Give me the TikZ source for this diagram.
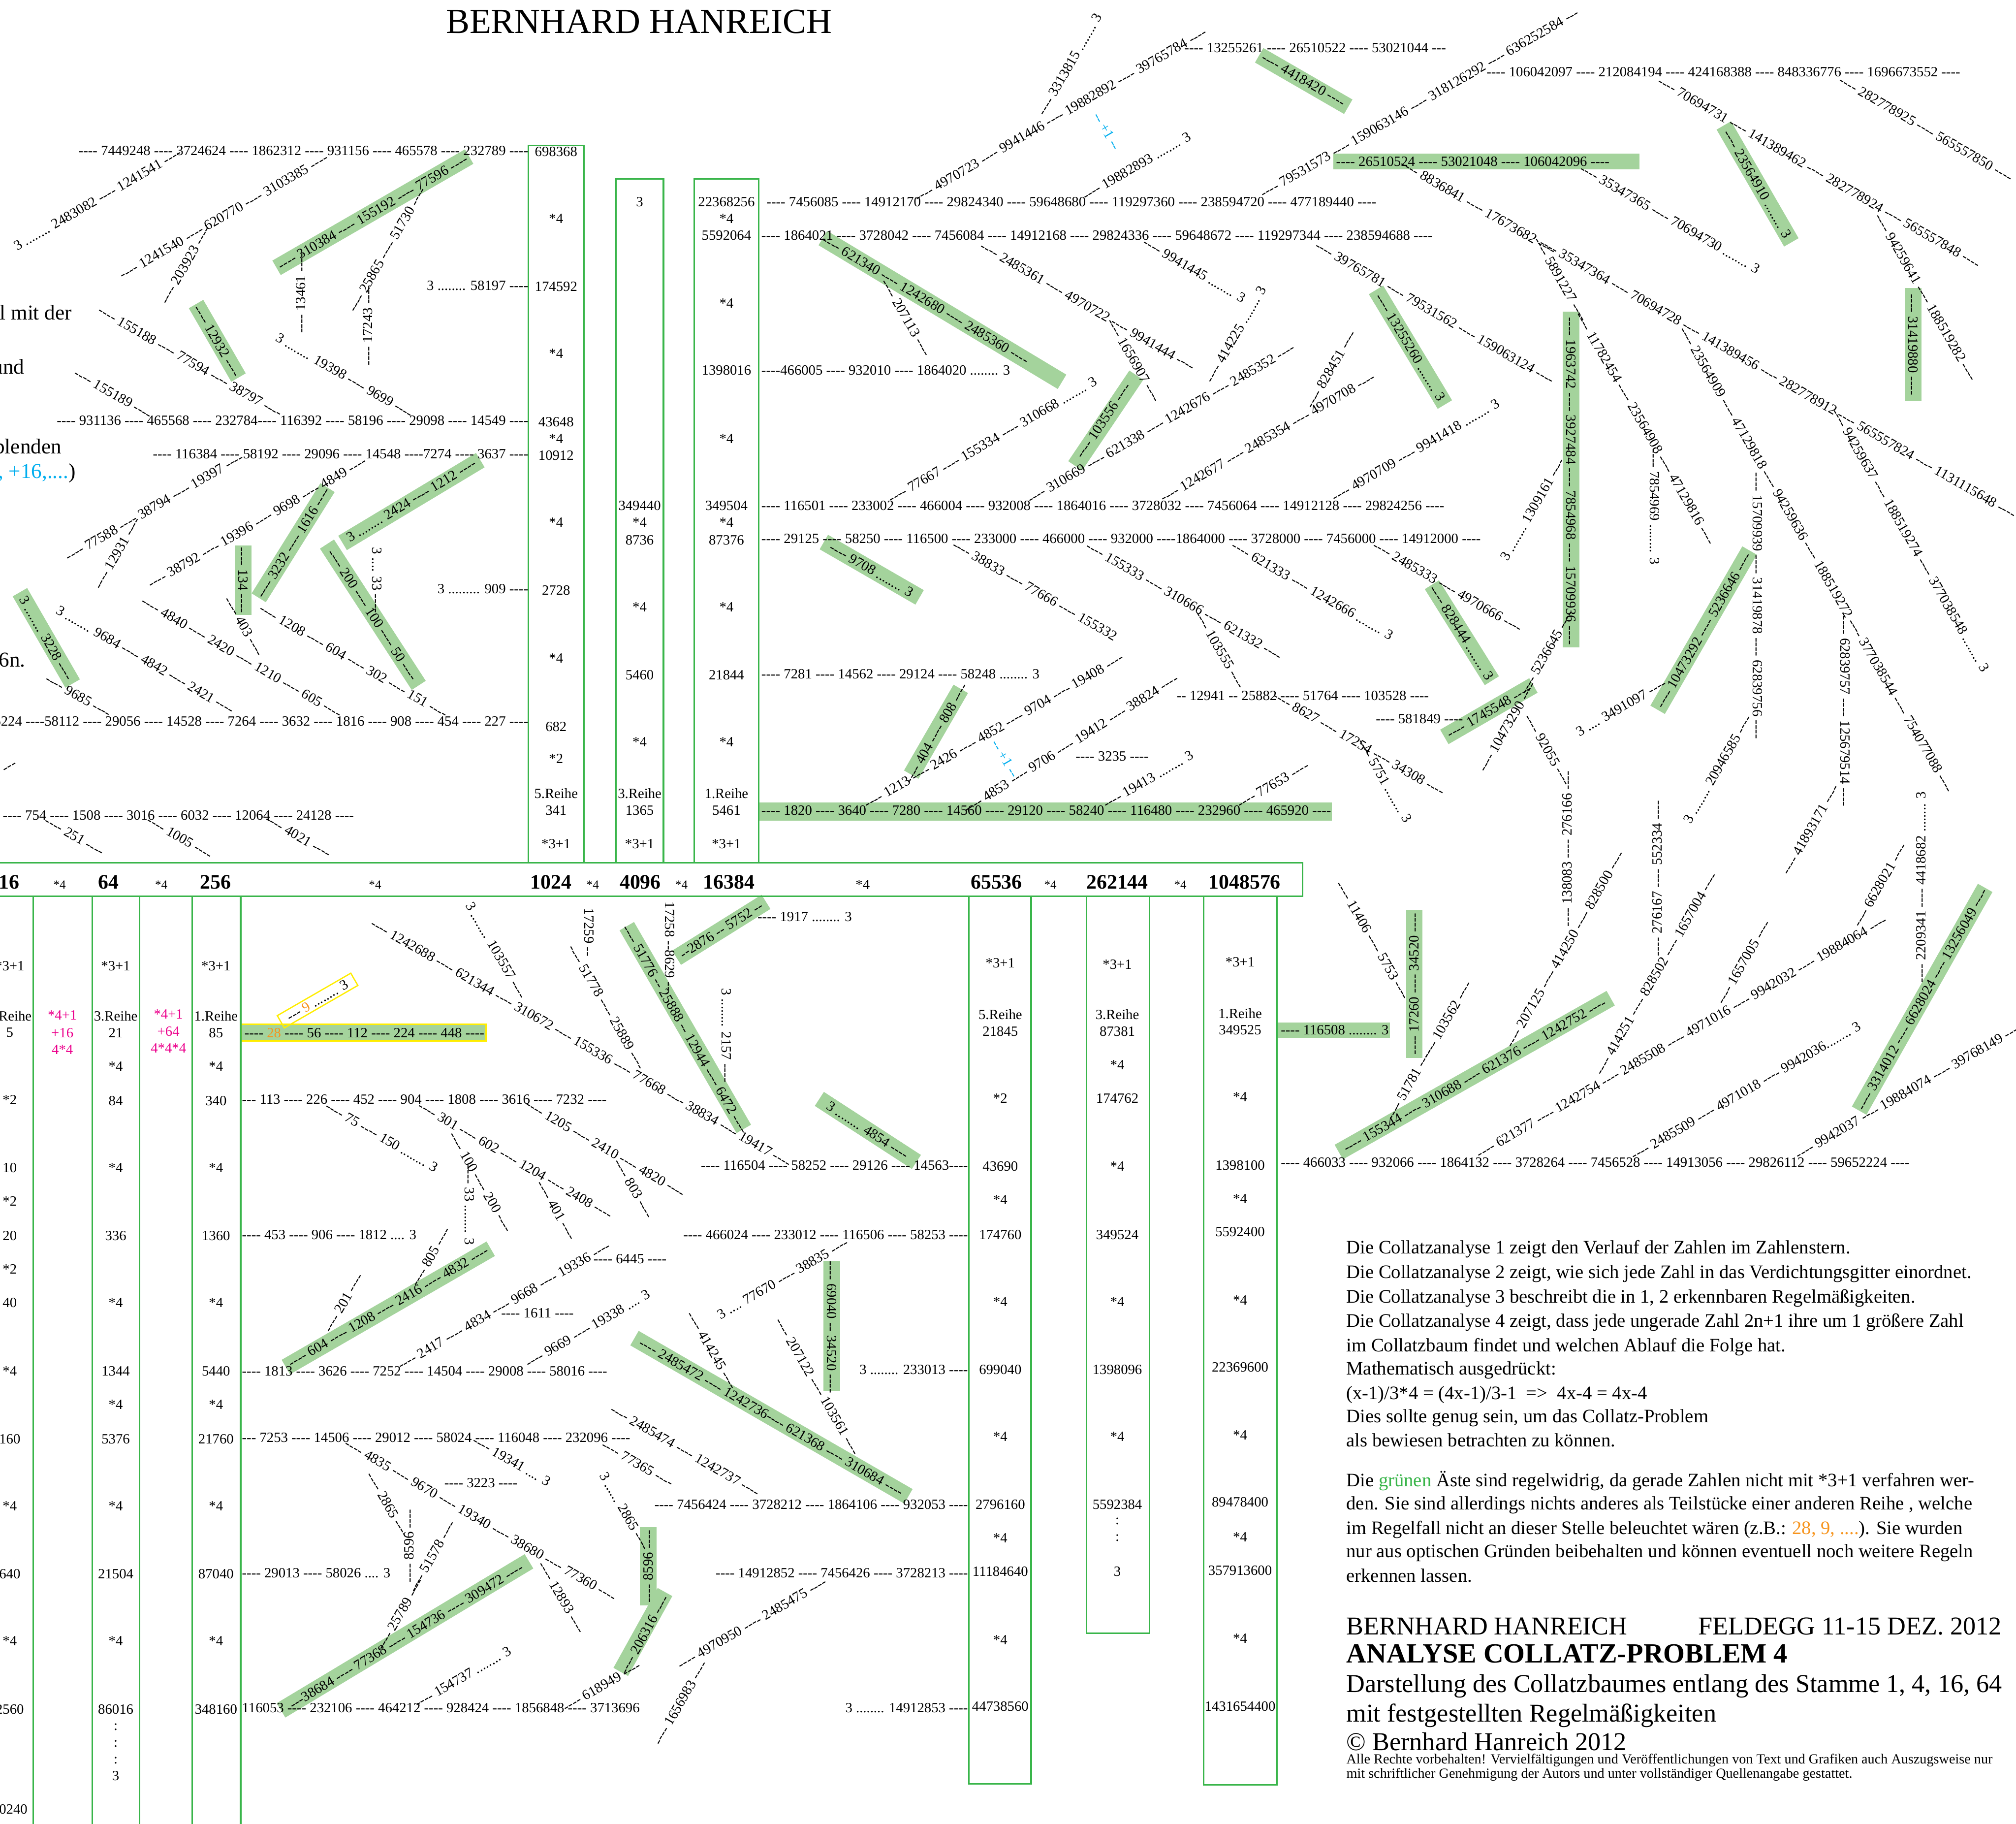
\documentclass[tikz,border=0pt]{standalone}
\usepackage{fontspec}
\setmainfont{Liberation Serif}[Ligatures=TeXOff]
\definecolor{gfill}{RGB}{164,211,156}
\definecolor{gline}{RGB}{57,181,74}
\definecolor{mag}{RGB}{236,0,140}
\definecolor{cy}{RGB}{0,174,239}
\definecolor{org}{RGB}{247,148,29}
\definecolor{yel}{RGB}{255,237,0}
\newcommand\sm{\fontsize{11}{13}\selectfont}
\newcommand\st{\fontsize{9.6}{11}\selectfont}
\newcommand\bgn{\fontsize{16}{18}\selectfont\bfseries}
\newcommand\txf{\fontsize{14.8}{18}\selectfont}
\tikzset{
  n/.style={inner sep=0pt,font=\sm},
  gbar/.style={fill=gfill,draw=none,minimum height=13pt,inner sep=0pt},
  cl/.style={draw=gline,line width=1.2pt},
}
\newcommand\Tx[4]{\node[n,rotate=#3] at (#1,#2) {#4};}
\newcommand\Tw[3]{\node[n,anchor=west] at (#1,#2) {#3};}
\newcommand\Te[3]{\node[n,anchor=east] at (#1,#2) {#3};}
\newcommand\Gb[4]{\node[gbar,rotate=#3,minimum width=#4pt] at (#1,#2) {};}
\newcommand\Cc[3]{\node[n] at (#1,#2) {#3};}
\newcommand\Lb[2]{\node[anchor=base west,inner sep=0pt,font=\txf] at (1047,#1) {#2};}
\begin{document}
\begin{tikzpicture}[x=1pt,y=-1pt]
\useasboundingbox (0,0) rectangle (1568,1418);
\fill[white] (0,0) rectangle (1568,1418);
\clip (0,0) rectangle (1568,1418);

% ---------- green bars ----------
\Gb{290}{165}{30}{173}
\Gb{169}{265}{-60}{66}
\Gb{189}{451}{90}{54}
\Gb{228}{422}{58}{101}
\Gb{320}{390}{31}{125}
\Gb{290}{478}{-57}{131}
\Gb{36}{496}{-60}{82}
\Gb{733}{241}{-31}{217}
\Gb{860}{327}{56}{85}
\Gb{1014}{63}{-30}{80}
\node[gbar,minimum width=238pt,minimum height=12pt] at (1156,125.5) {};
\Gb{1367}{143}{-60}{105}
\Gb{1488}{268}{90}{88}
\Gb{1222}{373}{90}{261}
\Gb{1097}{270}{-59}{104}
\Gb{1137}{492}{-58}{88}
\Gb{1158}{553}{30}{80}
\Gb{1325}{490}{60}{143}
\Gb{678}{443}{-30}{86}
\Gb{728}{569}{60}{77}
\node[gbar,minimum width=446pt,minimum height=14pt] at (813,631) {};
\node[gbar,minimum width=88pt,minimum height=12pt] at (1037,801) {};
\Gb{302}{1017}{30}{184}
\Gb{533}{799}{-60}{182}
\Gb{561}{723}{32}{82}
\Gb{675}{879}{-33}{90}
\Gb{647}{1031}{90}{101}
\Gb{600}{1102}{-30}{246}
\Gb{504}{1218}{90}{61}
\Gb{500}{1269}{61}{71}
\Gb{315}{1272}{31}{225}
\Gb{1100}{765}{90}{115}
\Gb{1147}{836}{29.5}{243}
\Gb{1495}{777}{60.5}{199}
% yellow framed bar
\node[fill=gfill,draw=yel,line width=1pt,minimum width=190pt,minimum height=13pt,inner sep=0pt] at (283,803) {};
\node[draw=yel,line width=1pt,minimum width=66pt,minimum height=11pt,inner sep=0pt,rotate=30] at (247,778) {};

% ---------- columns and bar ----------
\draw[cl] (-5,671) rectangle (1013,697);
\draw[cl] (411,113) rectangle (454,671);
\draw[cl] (479,139) rectangle (516,671);
\draw[cl] (540,139) rectangle (590,671);
\draw[cl] (753.5,697) rectangle (802,1387);
\draw[cl] (845,697) rectangle (894,1270);
\draw[cl] (936,697) rectangle (993,1388);
\foreach \xx in {25.9,71.7,108.5,149.4,187.2} {\draw[cl] (\xx,697) -- (\xx,1425);}

% bar numbers
\node[n,font=\bgn] at (7,686) {16};
\node[n,font=\st] at (46.4,688) {*4};
\node[n,font=\bgn] at (84.5,686) {64};
\node[n,font=\st] at (125.4,688) {*4};
\node[n,font=\bgn] at (167.7,686) {256};
\node[n,font=\st] at (291.7,688) {*4};
\node[n,font=\bgn] at (428.6,686) {1024};
\node[n,font=\st] at (461,688) {*4};
\node[n,font=\bgn] at (498,686) {4096};
\node[n,font=\st] at (530,688) {*4};
\node[n,font=\bgn] at (567,686) {16384};
\node[n] at (671,688) {*4};
\node[n,font=\bgn] at (775,686) {65536};
\node[n,font=\st] at (817,688) {*4};
\node[n,font=\bgn] at (869,686) {262144};
\node[n,font=\st] at (918,688) {*4};
\node[n,font=\bgn] at (968,686) {1048576};

% upper column contents
\foreach \yy/\tt in {118/698368,170/*4,223/174592,275/*4,328/43648,341/*4,354/10912,406/*4,459/2728,512/*4,565/682,590/*2,617/5.Reihe,630/341,656/*3+1} {\Cc{432.5}{\yy}{\tt}}
\foreach \yy/\tt in {157/3,393/349440,406/*4,420/8736,472/*4,525/5460,577/*4,617/3.Reihe,630/1365,656/*3+1} {\Cc{497.5}{\yy}{\tt}}
\foreach \yy/\tt in {157/22368256,170/*4,183/5592064,236/*4,288/1398016,341/*4,393/349504,406/*4,420/87376,472/*4,525/21844,577/*4,617/1.Reihe,630/5461,656/*3+1} {\Cc{565}{\yy}{\tt}}

% lower column contents
\foreach \yy/\tt in {751/*3+1,790/5.Reihe,803/5,855/*2,908/10,934/*2,961/20,987/*2,1013/40,1066/*4,1119/160,1171/*4,1224/640,1276/*4,1329/2560,1407/10240} {\Cc{7.6}{\yy}{\tt}}
\foreach \yy/\tt in {751/*3+1,790/3.Reihe,803/21,829/*4,856/84,908/*4,961/336,1013/*4,1066/1344,1092/*4,1119/5376,1171/*4,1224/21504,1276/*4,1329/86016,1343/:,1356/:,1369/:,1381/3} {\Cc{90}{\yy}{\tt}}
\foreach \yy/\tt in {751/*3+1,790/1.Reihe,803/85,829/*4,856/340,908/*4,961/1360,1013/*4,1066/5440,1092/*4,1119/21760,1171/*4,1224/87040,1276/*4,1329/348160} {\Cc{168}{\yy}{\tt}}
\foreach \yy/\tt in {749/*3+1,789/5.Reihe,802/21845,854/*2,907/43690,933/*4,960/174760,1012/*4,1065/699040,1117/*4,1170/2796160,1196/*4,1222/11184640,1275/*4,1327/44738560} {\Cc{778}{\yy}{\tt}}
\foreach \yy/\tt in {750/*3+1,789/3.Reihe,802/87381,828/*4,854/174762,907/*4,960/349524,1012/*4,1065/1398096,1117/*4,1170/5592384,1183/:,1196/:,1222/3} {\Cc{869}{\yy}{\tt}}
\foreach \yy/\tt in {748/*3+1,788/1.Reihe,801/349525,853/*4,906/1398100,932/*4,958/5592400,1011/*4,1063/22369600,1116/*4,1168/89478400,1195/*4,1221/357913600,1274/*4,1327/1431654400} {\Cc{964.5}{\yy}{\tt}}
\foreach \yy/\tt in {789.5/*4+1,803/+16,816/4*4} {\node[n,text=mag] at (48.5,\yy) {\tt};}
\foreach \yy/\tt in {788.5/*4+1,802/+64,815/4*4*4} {\node[n,text=mag] at (131,\yy) {\tt};}

% ---------- left cut texts ----------
\node[inner sep=0pt,anchor=east,font=\fontsize{16.5}{18}\selectfont] at (56,243) {l mit der};
\node[inner sep=0pt,anchor=east,font=\fontsize{16.5}{18}\selectfont] at (19,285) {und};
\node[inner sep=0pt,anchor=east,font=\fontsize{16.5}{18}\selectfont] at (48,347) {blenden};
\node[inner sep=0pt,anchor=east,font=\fontsize{16.5}{18}\selectfont] at (59,368) {\textcolor{cy}{, +16,....})};
\node[inner sep=0pt,anchor=east,font=\fontsize{16.5}{18}\selectfont] at (20,513) {-6n.};

% title
\node[inner sep=0pt,font=\fontsize{27.5}{30}\selectfont] at (497,17) {BERNHARD HANREICH};

% ---------- upper left ----------
\Te{411}{117}{---- 7449248 ---- 3724624 ---- 1862312 ---- 931156 ---- 465578 ---- 232789 ----}
\Te{411}{222}{3 ........ 58197 ----}
\Te{411}{327}{---- 931136 ---- 465568 ---- 232784---- 116392 ---- 58196 ---- 29098 ---- 14549 ----}
\Te{411}{353}{---- 116384 ---- 58192 ---- 29096 ---- 14548 ----7274 ---- 3637 ----}
\Te{411}{458}{3 ......... 909 ----}
\Te{411}{561}{---- 116224 ----58112 ---- 29056 ---- 14528 ---- 7264 ---- 3632 ---- 1816 ---- 908 ---- 454 ---- 227 ----}
\Tw{2}{634}{---- 754 ---- 1508 ---- 3016 ---- 6032 ---- 12064 ---- 24128 ----}
\Tx{76}{155}{30}{3 ........ 2483082 ---- 1241541 ----}
\Tx{174}{168}{30}{---- 1241540 ---- 620770 ---- 3103385 ----}
\Tx{144}{206}{60}{---- 203923 ----}
\Tx{290}{165}{30}{---- 310384 ---- 155192 ---- 77596 ----}
\Tx{234}{228}{90}{---- 13461 ----}
\Tx{301}{194}{60}{---- 25865 ---- 51730 ----}
\Tx{286}{253}{90}{---- 17243 ----}
\Tx{148}{281}{-30}{---- 155188 ---- 77594 ---- 38797 ----}
\Tx{169}{265}{-60}{---- 12932 ----}
\Tx{268}{292}{-30}{3 ........ 19398 ---- 9699 ----}
\Tx{88}{306}{-30}{---- 155189 ----}
\Tx{120}{394}{30}{---- 77588 ---- 38794 ---- 19397 ----}
\Tx{91}{430}{60}{---- 12931 ----}
\Tx{200}{406}{30}{---- 38792 ---- 19396 ---- 9698 ---- 4849 ----}
\Tx{228}{422}{58}{---- 3232 ---- 1616 ----}
\Tx{189}{451}{-90}{---- 134 ----}
\Tx{190}{487}{-60}{---- 403 ----}
\Tx{320}{389}{31}{3 ........ 2424 ---- 1212 ----}
\Tx{290}{478}{-57}{---- 200 ---- 100 ---- 50 ----}
\Tx{293}{451}{-90}{3 .... 33 ----}
\Tx{36}{496}{-60}{3 ........ 3228 ----}
\Tx{113}{513}{-30}{3 ........ 9684 ---- 4842 ---- 2421 ----}
\Tx{61}{541}{-30}{---- 9685 ----}
\Tx{188}{511}{-30}{---- 4840 ---- 2420 ---- 1210 ---- 605 ----}
\Tx{275}{514}{-30}{---- 1208 ---- 604 ---- 302 ---- 151 ----}
\Tx{8}{597}{30}{---}
\Tx{58}{650}{-30}{---- 251 ----}
\Tx{140}{651}{-30}{---- 1005 ----}
\Tx{232}{650}{-30}{---- 4021 ----}

% ---------- upper middle ----------
\Tw{596}{157}{---- 7456085 ---- 14912170 ---- 29824340 ---- 59648680 ---- 119297360 ---- 238594720 ---- 477189440 ----}
\Tw{592}{183}{---- 1864021 ---- 3728042 ---- 7456084 ---- 14912168 ---- 29824336 ---- 59648672 ---- 119297344 ---- 238594688 ----}
\Tw{592}{288}{----466005 ---- 932010 ---- 1864020 ........ 3}
\Tw{592}{393}{---- 116501 ---- 233002 ---- 466004 ---- 932008 ---- 1864016 ---- 3728032 ---- 7456064 ---- 14912128 ---- 29824256 ----}
\Tw{592}{419}{---- 29125 ---- 58250 ---- 116500 ---- 233000 ---- 466000 ---- 932000 ----1864000 ---- 3728000 ---- 7456000 ---- 14912000 ----}
\Tw{592}{524}{---- 7281 ---- 14562 ---- 29124 ---- 58248 ........ 3}
\Tw{592}{630}{---- 1820 ---- 3640 ---- 7280 ---- 14560 ---- 29120 ---- 58240 ---- 116480 ---- 232960 ---- 465920 ----}
\Tx{825}{89}{30}{---- 4970723 ---- 9941446 ---- 19882892 ---- 39765784 ----}
\Tw{921}{37}{---- 13255261 ---- 26510522 ---- 53021044 ---}
\Tx{832}{50}{60}{---- 3313815 ........ 3}
\Tx{861}{102}{-60}{\textcolor{cy}{-- +1 --}}
\Tx{884}{129}{30}{---- 19882893 ........ 3}
\Tx{1104}{80}{30}{---- 79531573 ---- 159063146 ---- 318126292 ---- 636252584 ---}
\Tw{1156}{56}{---- 106042097 ---- 212084194 ---- 424168388 ---- 848336776 ---- 1696673552 ----}
\Tw{1039}{125.5}{---- 26510524 ---- 53021048 ---- 106042096 ----}
\Tx{1014}{62}{-30}{---- 4418420 ----}
\Tx{846}{238}{-30}{---- 2485361 ---- 4970722 ---- 9941444 ----}
\Tx{929}{210}{-30}{---- 9941445 ........ 3}
\Tx{882}{280}{-60}{---- 1656907 ----}
\Tx{720}{233}{-31}{---- 621340 ---- 1242680 ---- 2485360 ----}
\Tx{705}{247}{-60}{---- 207113 ----}
\Tx{961}{260}{60}{---- 414225 ........ 3}
\Tx{903}{329}{30}{---- 310669 ---- 621338 ---- 1242676 ---- 2485352 ----}
\Tx{858}{327}{56}{---- 103556 ----}
\Tx{772}{342}{30}{---- 77667 ---- 155334 ---- 310668 ........ 3}
\Tx{986}{340}{30}{---- 1242677 ---- 2485354 ---- 4970708 ----}
\Tx{1035}{287}{60}{---- 828451 ----}
\Tx{1101}{350}{30}{---- 4970709 ---- 9941418 ........ 3}
\Tx{1116}{243}{-30}{---- 39765781 ---- 79531562 ---- 159063124 ----}
\Tx{1097}{270}{-59}{---- 13255260 ........ 3}
\Tx{1150}{161}{-30}{---- 8836841 ---- 17673682 ----}
\Tx{1299}{170}{-30}{---- 35347365 ---- 70694730 ........ 3}
\Tx{1214}{217}{-60}{---- 5891227 ----}
\Tx{1383}{294}{-30}{---- 35347364 ---- 70694728 ---- 141389456 ---- 282778912 ---- 565557824 ---- 1131115648 ----}
\Tx{1222}{374}{-90}{---- 1963742 ---- 3927484 ---- 7854968 ---- 15709936 ----}
\Tx{1280}{333}{-60}{---- 11782454 ---- 23564908 ---- 47129816 ----}
\Tx{1287}{394}{-90}{---- 7854969 ........ 3}
\Tx{1413}{435}{-60}{---- 23564909 ---- 47129818 ---- 94259636 ---- 188519272 ---- 377038544 ---- 754077088 ----}
\Tx{1367}{471}{-90}{---- 15709939 ---- 31419878 ---- 62839756 ----}
\Tx{1435}{553}{-90}{---- 62839757 ---- 125679514 ----}
\Tx{1486}{420}{-60}{---- 94259637 ---- 188519274 ---- 377038548 ........ 3}
\Tx{1415}{134}{-30}{---- 70694731 ---- 141389462 ---- 282778924 ---- 565557848 ----}
\Tx{1367}{143}{-60}{---- 23564910 ........ 3}
\Tx{1498}{100}{-30}{---- 282778925 ---- 565557850 ----}
\Tx{1498}{231}{-60}{---- 94259641 ---- 188519282 ----}
\Tx{1488}{268}{-90}{---- 31419880 ----}
\Tx{1192}{396}{60}{3 ........ 1309161 ----}
\Tx{1126}{456}{-30}{---- 2485333 ---- 4970666 ----}
\Tx{1137}{492}{-58}{---- 828444 ........ 3}
\Tx{1021}{459}{-30}{---- 621333 ---- 1242666 ........ 3}
\Tx{921}{467}{-30}{---- 155333 ---- 310666 ---- 621332 ----}
\Tx{949}{505}{-60}{---- 103555 ----}
\Tx{805}{459}{-30}{---- 38833 ---- 77666 ---- 155332}
\Tx{678}{443}{-30}{---- 9708 ........ 3}
\Tw{915}{541}{-- 12941 -- 25882 ---- 51764 ---- 103528 ----}
\Tx{833}{578}{32}{---- 4853 ---- 9706 ---- 19412 ---- 38824 ----}
\Tx{865}{588}{0}{---- 3235 ----}
\Tx{773}{568}{30}{---- 1213 ---- 2426 ---- 4852 ---- 9704 ---- 19408 ----}
\Tx{728}{570}{60}{---- 404 ---- 808 ----}
\Tx{782}{590}{-60}{\textcolor{cy}{-- +1 --}}
\Tx{893}{606}{30}{---- 19413 ........ 3}
\Tx{990}{610}{30}{---- 77653 ----}
\Tx{1057}{578}{-30}{---- 8627 ---- 17254 ---- 34308 ----}
\Tx{1077}{607}{-60}{---- 5751 ........ 3}
\Tx{1104}{559}{0}{---- 581849 ----}
\Tx{1158}{553}{30}{---- 1745548 ----}
\Tx{1203}{507}{60}{---- 5236645 ----}
\Tx{1172}{565}{60}{---- 10473290 ----}
\Tx{1204}{583}{-60}{---- 92055 ----}
\Tx{1261}{550}{30}{3 .... 3491097 ----}
\Tx{1325}{490}{60}{---- 10473292 ---- 5236646 ----}
\Tx{1336}{598}{60}{3 ........ 20946585 ----}
\Tx{1408}{645}{60}{---- 41893171 ----}

% ---------- lower middle ----------
\Tw{190}{803}{---- \textcolor{org}{28} ---- 56 ---- 112 ---- 224 ---- 448 ----}
\Tx{247}{778}{30}{--- \textcolor{org}{9} ........ 3}
\Tw{188}{855}{--- 113 ---- 226 ---- 452 ---- 904 ---- 1808 ---- 3616 ---- 7232 ----}
\Tw{188}{960}{---- 453 ---- 906 ---- 1812 .... 3}
\Tw{188}{1066}{---- 1813 ---- 3626 ---- 7252 ---- 14504 ---- 29008 ---- 58016 ----}
\Tw{188}{1118}{--- 7253 ---- 14506 ---- 29012 ---- 58024 ---- 116048 ---- 232096 ----}
\Tw{188}{1223}{---- 29013 ---- 58026 .... 3}
\Tw{188}{1328}{116053 ---- 232106 ---- 464212 ---- 928424 ---- 1856848 ---- 3713696}
\Te{753}{906}{---- 116504 ---- 58252 ---- 29126 ---- 14563----}
\Te{753}{960}{---- 466024 ---- 233012 ---- 116506 ---- 58253 ----}
\Te{753}{1065}{3 ........ 233013 ----}
\Te{753}{1170}{---- 7456424 ---- 3728212 ---- 1864106 ---- 932053 ----}
\Te{753}{1223}{---- 14912852 ---- 7456426 ---- 3728213 ----}
\Te{753}{1328}{3 ........ 14912853 ----}
\Tw{589}{713}{---- 1917 ........ 3}
\Tx{297}{884}{-30}{---- 75 ---- 150 ........ 3}
\Tx{401}{902}{-30}{---- 301 ---- 602 ---- 1204 ---- 2408 ----}
\Tx{374}{919}{-60}{---- 100 ---- 200 ----}
\Tx{365}{937}{-90}{---- 33 ........ 3}
\Tx{433}{941}{-60}{---- 401 ----}
\Tx{471}{893}{-30}{---- 1205 ---- 2410 ---- 4820 ----}
\Tx{493}{924}{-60}{---- 803 ----}
\Tx{302}{1016}{30}{---- 604 ---- 1208 ---- 2416 ---- 4832 ----}
\Tx{267}{1013}{60}{---- 201 ----}
\Tx{335}{977}{60}{---- 805 ----}
\Tx{392}{1015}{30}{---- 2417 ---- 4834 ---- 9668 ---- 19336 ----}
\Tx{490}{979}{0}{---- 6445 ----}
\Tx{418}{1021}{0}{---- 1611 ----}
\Tx{457}{1033}{30}{---- 9669 ---- 19338 .... 3}
\Tx{374}{1182}{-30}{---- 4835 ---- 9670 ---- 19340 ---- 38680 ---- 77360 ----}
\Tx{374}{1153}{0}{---- 3223 ----}
\Tx{398}{1136}{-30}{---- 19341 .... 3}
\Tx{302}{1170}{-60}{---- 2865 ----}
\Tx{318}{1202}{90}{---- 8596 ----}
\Tx{336}{1210}{60}{---- 51578 ----}
\Tx{311}{1255}{60}{---- 25789 ----}
\Tx{437}{1242}{-60}{---- 12893 ----}
\Tx{496}{1138}{-30}{---- 77365 ----}
\Tx{316}{1272}{31}{---38684 ---- 77368 ---- 154736 ---- 309472 ----}
\Tx{360}{1304}{30}{---- 154737 ........ 3}
\Tx{468}{1311}{30}{---- 618949 ----}
\Tx{501}{1271}{61}{---- 206316 ----}
\Tx{504}{1218}{90}{---- 8596 ----}
\Tx{486}{1175}{-60}{3 ...... 2865 ----}
\Tx{529}{1324}{60}{---- 1656983 ----}
\Tx{585}{1262}{30}{---- 4970950 ---- 2485475 ----}
\Tx{600}{1102}{-30}{---- 2485472 ---- 1242736---- 621368 ---- 310684 ----}
\Tx{533}{1128}{-30}{---- 2485474 ---- 1242737 ----}
\Tx{554}{1050}{-60}{---- 414245 ----}
\Tx{636}{1078}{-60}{---- 207122 ---- 103561 ----}
\Tx{647}{1032}{-90}{---- 69040 -- 34520 ----}
\Tx{609}{994}{30}{3 .... 77670 ---- 38835 ----}
\Tx{675}{879}{-33}{3 ........ 4854 ----}
\Tx{452}{811}{-30}{---- 1242688 ---- 621344 ---- 310672 ---- 155336 ---- 77668 ---- 38834 ---- 19417 ----}
\Tx{386}{739}{-60}{3 ........ 103557 ----}
\Tx{458}{725}{-90}{17259 --}
\Tx{472}{783}{-60}{---- 51778 ---- 25889 ----}
\Tx{533}{800}{-60}{---- 51776 -- 25888 -- 12944 ---- 6472 ----}
\Tx{521}{736}{-90}{17258 --8629 --}
\Tx{561}{723}{32}{--2876 -- 5752 --}
\Tx{565}{805}{-90}{3 ........ 2157 ----}

% ---------- lower right ----------
\Tw{996}{801}{---- 116508 ........ 3}
\Tw{996}{904}{---- 466033 ---- 932066 ---- 1864132 ---- 3728264 ---- 7456528 ---- 14913056 ---- 29826112 ---- 59652224 ----}
\Tx{1068}{731}{-60}{---- 11406 ---- 5753 ----}
\Tx{1100}{765}{90}{---- 17260 ---- 34520 ----}
\Tx{1125}{793}{60}{---- 103562 ----}
\Tx{1096}{843}{60}{---- 51781 ----}
\Tx{1147}{836}{29.5}{---- 155344 ---- 310688 ---- 621376 ---- 1242752 ----}
\Tx{1217}{738}{60}{---- 207125 ---- 414250 ---- 828500 ----}
\Tx{1219}{660}{90}{---- 138083 ---- 276166 ----}
\Tx{1289}{683}{90}{---- 276167 ---- 552334 ----}
\Tx{1288}{757}{60}{---- 414251 ---- 828502 ---- 1657004 ----}
\Tx{1308}{806}{30}{---- 621377 ---- 1242754 ---- 2485508 ---- 4971016 ---- 9942032 ---- 19884064 ----}
\Tx{1356}{748}{60}{---- 1657005 ----}
\Tx{1358}{848}{30}{---- 2485509 ---- 4971018 ---- 9942036........ 3}
\Tx{1483}{849}{30}{---- 9942037 ---- 19884074 ---- 39768149 ---}
\Tx{1495}{777}{60.5}{---- 3314012 ---- 6628024 ---- 13256049 ----}
\Tx{1494}{690}{90}{---- 2209341 ---- 4418682 ........ 3}
\Tx{1462}{688}{60}{---- 6628021 ----}

% ---------- text block ----------
\Lb{975}{Die Collatzanalyse 1 zeigt den Verlauf der Zahlen im Zahlenstern.}
\Lb{994}{Die Collatzanalyse 2 zeigt, wie sich jede Zahl in das Verdichtungsgitter einordnet.}
\Lb{1013}{Die Collatzanalyse 3 beschreibt die in 1, 2 erkennbaren Regelmäßigkeiten.}
\Lb{1032}{Die Collatzanalyse 4 zeigt, dass jede ungerade Zahl 2n+1 ihre um 1 größere Zahl}
\Lb{1051}{im Collatzbaum findet und welchen Ablauf die Folge hat.}
\Lb{1069}{Mathematisch ausgedrückt:}
\Lb{1088}{(x-1)/3*4 = (4x-1)/3-1~~=>~~4x-4 = 4x-4}
\Lb{1106}{Dies sollte genug sein, um das Collatz-Problem}
\Lb{1125}{als bewiesen betrachten zu können.}
\Lb{1156}{Die \textcolor{gline}{grünen} Äste sind regelwidrig, da gerade Zahlen nicht mit *3+1 verfahren wer-}
\Lb{1174}{den. Sie sind allerdings nichts anderes als Teilstücke einer anderen Reihe , welche}
\Lb{1193}{im Regelfall nicht an dieser Stelle beleuchtet wären (z.B.: \textcolor{org}{28, 9, ....}). Sie wurden}
\Lb{1211}{nur aus optischen Gründen beibehalten und können eventuell noch weitere Regeln}
\Lb{1230}{erkennen lassen.}

\node[anchor=base west,inner sep=0pt,font=\fontsize{20}{22}\selectfont] at (1047,1271) {BERNHARD HANREICH};
\node[anchor=base east,inner sep=0pt,font=\fontsize{20}{22}\selectfont] at (1557,1271) {FELDEGG 11-15 DEZ. 2012};
\node[anchor=base west,inner sep=0pt,font=\fontsize{21.6}{24}\selectfont\bfseries] at (1047,1293) {ANALYSE COLLATZ-PROBLEM 4};
\node[anchor=base west,inner sep=0pt,font=\fontsize{20}{22}\selectfont] at (1047,1316) {Darstellung des Collatzbaumes entlang des Stamme 1, 4, 16, 64};
\node[anchor=base west,inner sep=0pt,font=\fontsize{20}{22}\selectfont] at (1047,1339) {mit festgestellten Regelmäßigkeiten};
\node[anchor=base west,inner sep=0pt,font=\fontsize{20}{22}\selectfont] at (1047,1361) {© Bernhard Hanreich 2012};
\node[anchor=base west,inner sep=0pt,font=\fontsize{10.8}{11}\selectfont] at (1047,1371.5) {Alle Rechte vorbehalten! Vervielfältigungen und Veröffentlichungen von Text und Grafiken auch Auszugsweise nur};
\node[anchor=base west,inner sep=0pt,font=\fontsize{10.8}{11}\selectfont] at (1047,1382.5) {mit schriftlicher Genehmigung der Autors und unter vollständiger Quellenangabe gestattet.};
\end{tikzpicture}
\end{document}
